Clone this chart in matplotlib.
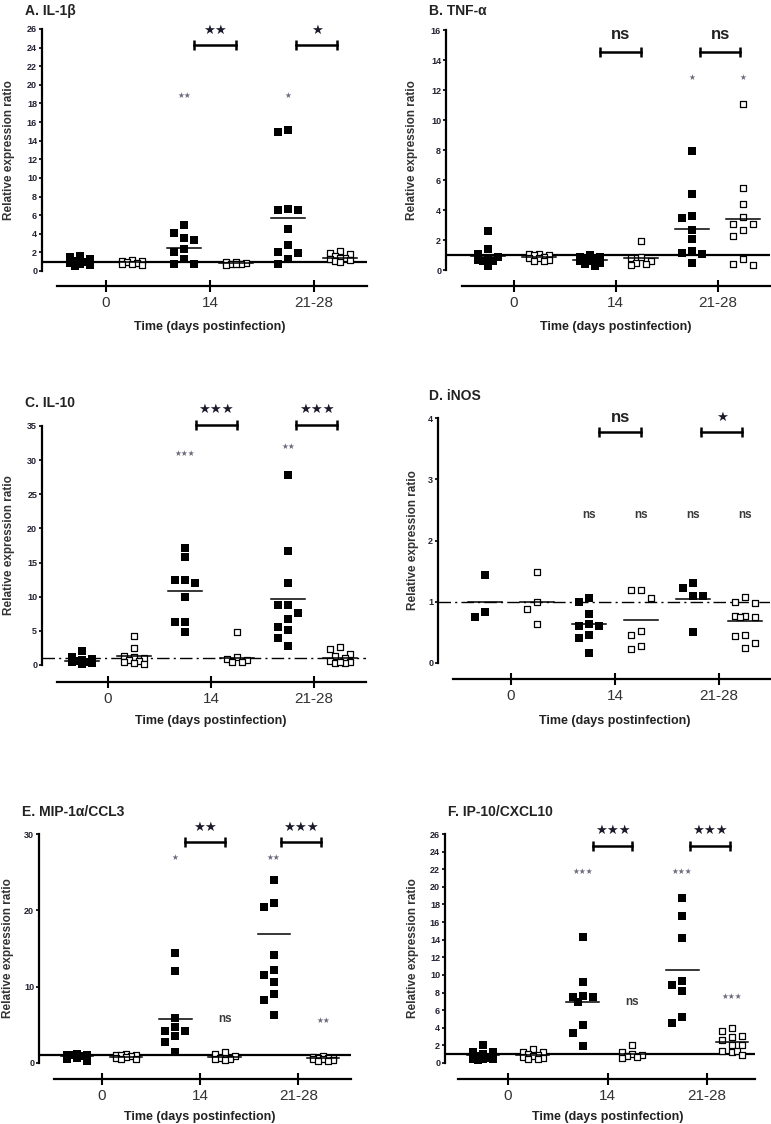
import numpy as np
import matplotlib
matplotlib.use("Agg")
import matplotlib.pyplot as plt
from matplotlib import transforms

plt.rcParams['font.family'] = ['Liberation Sans', 'DejaVu Sans']

W, H, DPI = 771, 1124, 100

# ===================== data =====================
# group order: infected d0, control d0, infected d14, control d14, infected d21-28, control d21-28
GROUP_FILLED = [True, False, True, False, True, False]
DAY_LABELS = ['0', '14', '21-28']
XLABEL = 'Time (days postinfection)'
YLABEL = 'Relative expression ratio'

il1b_vals = [
    [1.6, 1.5, 1.3, 1.1, 1.0, 0.9, 0.7, 0.6, 0.5],
    [1.2, 1.1, 1.1, 1.0, 0.9, 0.8, 0.7, 0.6],
    [4.9, 4.1, 3.5, 3.3, 2.4, 2.0, 1.3, 0.8, 0.7],
    [1.0, 1.0, 0.9, 0.8, 0.7, 0.7, 0.6],
    [15.2, 14.9, 6.7, 6.6, 6.6, 4.5, 2.8, 2.0, 1.9, 1.3, 0.8],
    [2.1, 1.9, 1.8, 1.6, 1.4, 1.4, 1.3, 1.2, 1.1, 1.0],
]
il1b_means = [1.0, 0.95, 2.5, 0.85, 5.65, 1.45]
il1b_marks = [(2, 18.7, '★★'), (4, 18.7, '★')]
il1b_brackets = ['★★', '★']

tnfa_vals = [
    [2.6, 1.4, 1.1, 0.9, 0.8, 0.7, 0.6, 0.6, 0.3],
    [1.1, 1.05, 1.0, 1.0, 0.9, 0.8, 0.8, 0.7, 0.6, 0.6],
    [1.0, 0.9, 0.9, 0.8, 0.7, 0.6, 0.6, 0.5, 0.4, 0.3],
    [1.95, 0.9, 0.8, 0.6, 0.5, 0.4, 0.35],
    [7.95, 5.05, 3.6, 3.5, 2.7, 2.1, 1.25, 1.15, 1.1, 0.5],
    [11.1, 5.5, 4.4, 3.55, 3.1, 3.05, 2.65, 2.3, 0.75, 0.4, 0.35],
]
tnfa_means = [0.95, 0.85, 0.65, 0.8, 2.75, 3.4]
tnfa_marks = [(4, 12.8, '★'), (5, 12.8, '★')]
tnfa_brackets = ['ns', 'ns']

il10_vals = [
    [2.1, 1.2, 0.9, 0.7, 0.6, 0.5, 0.4, 0.3, 0.2],
    [4.2, 2.5, 1.3, 1.1, 1.0, 0.8, 0.6, 0.5, 0.3, 0.2],
    [17.2, 15.8, 12.4, 12.4, 12.0, 9.9, 6.3, 6.3, 4.9],
    [4.8, 1.1, 0.9, 0.7, 0.5, 0.4],
    [27.8, 16.7, 12.0, 8.8, 8.8, 7.6, 6.8, 5.5, 5.1, 4.0, 2.8],
    [2.6, 2.4, 1.6, 1.3, 1.0, 0.6, 0.4, 0.3, 0.3, 0.5],
]
il10_means = [0.6, 1.3, 10.8, 1.0, 9.65, 1.05]
il10_marks = [(2, 30.8, '★★★'), (4, 31.8, '★★')]
il10_brackets = ['★★★', '★★★']

inos_vals = [
    [1.44, 0.83, 0.75],
    [1.48, 1.0, 0.88, 0.64],
    [1.06, 1.0, 0.8, 0.64, 0.61, 0.6, 0.46, 0.41, 0.16],
    [1.2, 1.19, 1.06, 0.53, 0.46, 0.27, 0.23],
    [1.3, 1.22, 1.1, 1.1, 0.5],
    [1.08, 0.99, 0.98, 0.76, 0.76, 0.75, 0.75, 0.46, 0.44, 0.32, 0.25],
]
inos_means = [1.0, 1.0, 0.64, 0.71, 1.05, 0.68]
inos_marks = [(2, 2.42, 'ns'), (3, 2.42, 'ns'), (4, 2.42, 'ns'), (5, 2.42, 'ns')]
inos_brackets = ['ns', '★']

ccl3_vals = [
    [1.2, 1.1, 1.0, 1.0, 0.9, 0.7, 0.5, 0.3],
    [1.2, 1.1, 1.0, 1.0, 0.9, 0.8, 0.6, 0.5, 0.5],
    [14.4, 12.0, 5.9, 4.7, 4.2, 4.2, 3.5, 2.8, 1.5],
    [1.4, 1.2, 0.9, 0.7, 0.5, 0.5, 0.4],
    [24.0, 21.0, 20.5, 14.1, 12.2, 11.5, 10.6, 9.0, 8.3, 6.3],
    [0.9, 0.8, 0.7, 0.6, 0.6, 0.5, 0.5, 0.4, 0.3, 0.3],
]
ccl3_means = [0.9, 0.85, 5.8, 0.8, 16.9, 0.6]
ccl3_marks = [(2, 26.8, '★'), (4, 26.8, '★★'), (3, 5.8, 'ns'), (5, 5.5, '★★')]
ccl3_brackets = ['★★', '★★★']

cxcl10_vals = [
    [2.1, 1.3, 1.2, 1.0, 0.8, 0.6, 0.5, 0.4, 0.4, 0.3],
    [1.6, 1.3, 1.2, 1.0, 0.9, 0.8, 0.7, 0.6, 0.5, 0.4],
    [14.3, 9.2, 7.6, 7.5, 7.5, 6.9, 4.3, 3.4, 1.9],
    [2.1, 1.3, 1.0, 0.9, 0.8, 0.7, 0.6],
    [18.7, 16.7, 14.2, 9.3, 8.8, 8.2, 5.2, 4.5],
    [4.0, 3.6, 3.1, 3.0, 2.65, 2.0, 2.0, 1.4, 1.3, 1.4, 0.9],
]
cxcl10_means = [0.9, 0.95, 6.95, 1.0, 10.6, 2.4]
cxcl10_marks = [(2, 21.6, '★★★'), (4, 21.6, '★★★'), (3, 6.9, 'ns'), (5, 7.4, '★★★')]
cxcl10_brackets = ['★★★', '★★★']

# ===================== layout (pixels in the 771x1124 picture) =====================
# rect = (left, top, right, bottom); c1 = px of first group, step = px between groups
PANELS = [
    dict(title='A. IL-1β', vals=il1b_vals, means=il1b_means, marks=il1b_marks,
         brackets=il1b_brackets, ymax=26, ystep=2, br_y=24.3, br_ty=25.8,
         rect=(42, 29, 367, 271), c1=80, step=52, xl_start=57, xl_off=15,
         title_xy=(25, 11), ylab_x=9, xlab_y=327, dashed=False),
    dict(title='B. TNF-α', vals=tnfa_vals, means=tnfa_means, marks=tnfa_marks,
         brackets=tnfa_brackets, ymax=16, ystep=2, br_y=14.55, br_ty=15.7,
         rect=(446, 30, 770, 270), c1=488, step=51, xl_start=462, xl_off=16,
         title_xy=(429, 11), ylab_x=412, xlab_y=327, dashed=False),
    dict(title='C. IL-10', vals=il10_vals, means=il10_means, marks=il10_marks,
         brackets=il10_brackets, ymax=35, ystep=5, br_y=35.2, br_ty=37.4,
         rect=(42, 426, 366, 665), c1=82, step=51.6, xl_start=57, xl_off=17,
         title_xy=(25, 403), ylab_x=9, xlab_y=721, dashed=True),
    dict(title='D. iNOS', vals=inos_vals, means=inos_means, marks=inos_marks,
         brackets=inos_brackets, ymax=4, ystep=1, br_y=3.77, br_ty=4.0,
         rect=(438, 418, 770, 663), c1=485, step=52, xl_start=453, xl_off=16,
         title_xy=(429, 396), ylab_x=413, xlab_y=721, dashed=True),
    dict(title='E. MIP-1α/CCL3', vals=ccl3_vals, means=ccl3_means, marks=ccl3_marks,
         brackets=ccl3_brackets, ymax=30, ystep=10, br_y=28.9, br_ty=30.8,
         rect=(39, 834, 351, 1063), c1=77, step=49.2, xl_start=54, xl_off=16,
         title_xy=(22, 812), ylab_x=8, xlab_y=1117, dashed=False),
    dict(title='F. IP-10/CXCL10', vals=cxcl10_vals, means=cxcl10_means, marks=cxcl10_marks,
         brackets=cxcl10_brackets, ymax=26, ystep=2, br_y=24.6, br_ty=26.3,
         rect=(445, 834, 755, 1063), c1=483, step=49.8, xl_start=458, xl_off=16,
         title_xy=(448, 812), ylab_x=413, xlab_y=1117, dashed=False),
]

SWARM_DX = 10.0    # horizontal step between neighbouring squares, px
SWARM_DY = 9.0     # vertical distance below which two squares are spread apart, px
SWARM_SLOTS = [0, -1, 1, -0.5, 0.5]
GRAY = '#6b6b7d'


def swarm_offsets(values, px_per_y, px_per_x):
    """Prism-like spreading: top to bottom, take the first free slot near the centre."""
    vals = np.asarray(values, float)
    offs = np.zeros(len(vals))
    placed = []  # (x px, y px)
    for idx in np.argsort(-vals, kind='stable'):
        y = vals[idx] * px_per_y
        best, best_d = 0.0, -1.0
        for k in SWARM_SLOTS:
            x = k * SWARM_DX
            hit = any(abs(x - px) < SWARM_DX * 0.99 and abs(y - py) < SWARM_DY for px, py in placed)
            if not hit:
                best = x
                break
            d = min(np.hypot(x - px, y - py) for px, py in placed)
            if d > best_d:
                best, best_d = x, d
        placed.append((best, y))
        offs[idx] = best / px_per_x
    return offs


def draw_panel(fig, p):
    left, top, right, bottom = p['rect']
    ax = fig.add_axes([left / W, 1 - bottom / H, (right - left) / W, (bottom - top) / H])
    c1, step = p['c1'], p['step']
    x_lo = 1 - (c1 - left) / step
    x_hi = 1 + (right - c1) / step
    ax.set_xlim(x_lo, x_hi)
    ax.set_ylim(0, p['ymax'])
    px_per_y = (bottom - top) / p['ymax']
    px_per_x = step

    # reference line at ratio = 1
    if p['dashed']:
        ax.axhline(1, color='black', lw=1.0, dashes=(9, 3, 1.5, 3), zorder=1)
    else:
        ax.axhline(1, color='black', lw=1.6, zorder=1)

    for g, vals in enumerate(p['vals']):
        xc = g + 1
        xs = xc + swarm_offsets(vals, px_per_y, px_per_x)
        if GROUP_FILLED[g]:
            ax.scatter(xs, vals, marker='s', s=28, color='black', lw=0, zorder=3, clip_on=False)
        else:
            ax.scatter(xs, vals, marker='s', s=24, facecolor='white', edgecolor='black',
                       lw=0.9, zorder=3, clip_on=False)
        ax.plot([xc - 0.33, xc + 0.33], [p['means'][g]] * 2, color='black', lw=1.1, zorder=4)

    # small significance marks above each group
    for g, y, txt in p['marks']:
        if txt == 'ns':
            ax.text(g + 1, y, txt, ha='center', va='center', fontsize=8.5, fontweight='bold',
                    color='#3a3a3a', clip_on=False)
        else:
            ax.text(g + 1, y, txt, ha='center', va='center', fontsize=5.5, color=GRAY,
                    clip_on=False)

    # brackets between infected / control
    for (x0, x1), txt in zip([(3.2, 4.0), (5.15, 5.95)], p['brackets']):
        ax.plot([x0, x1], [p['br_y']] * 2, color='black', lw=1.8, marker='|',
                markersize=7.5, mew=1.8, clip_on=False, zorder=5)
        if txt == 'ns':
            ax.text((x0 + x1) / 2, p['br_ty'], txt, ha='center', va='center', fontsize=12,
                    fontweight='bold', color='#222222', clip_on=False)
        else:
            ax.text((x0 + x1) / 2, p['br_ty'], txt, ha='center', va='center', fontsize=9.5,
                    color='#1a1a2a', clip_on=False)

    # axes styling (Prism look: offset x axis, left y axis)
    for side in ['top', 'right']:
        ax.spines[side].set_visible(False)
    ax.spines['left'].set_linewidth(1.6)
    ax.spines['bottom'].set_linewidth(1.6)
    ax.spines['bottom'].set_position(('outward', p['xl_off'] * 72 / DPI))
    xl0 = 1 - (c1 - p['xl_start']) / step
    ax.spines['bottom'].set_bounds(xl0, x_hi)

    yt = np.arange(0, p['ymax'] + 0.01, p['ystep'])
    ax.set_yticks(yt)
    ax.set_yticklabels([f'{v:g}' for v in yt])
    ax.tick_params(axis='y', direction='out', length=2.5, width=1.2, pad=1,
                   labelsize=6.5, labelcolor='#222233')
    for lbl in ax.get_yticklabels():
        lbl.set_fontweight('bold')

    ax.set_xticks([1.5, 3.5, 5.5])
    ax.set_xticklabels(DAY_LABELS)
    ax.tick_params(axis='x', direction='inout', length=9, width=1.5, pad=2.5,
                   labelsize=11, labelcolor='#333333')

    # labels and title
    fig.text(p['title_xy'][0] / W, 1 - p['title_xy'][1] / H, p['title'], ha='left',
             va='center', fontsize=10, fontweight='bold', color='#222222')
    fig.text(p['ylab_x'] / W, 1 - (top + bottom) / 2 / H, YLABEL, rotation=90,
             ha='center', va='center', fontsize=8.5, fontweight='bold', color='#333333')
    trans = transforms.blended_transform_factory(ax.transData, fig.transFigure)
    ax.text(3.5, 1 - p['xlab_y'] / H, XLABEL, transform=trans, ha='center', va='center',
            fontsize=9, fontweight='bold', color='#222222')
    return ax


fig = plt.figure(figsize=(W / DPI, H / DPI), dpi=DPI)
for p in PANELS:
    draw_panel(fig, p)

fig.savefig('out.png', dpi=DPI)
